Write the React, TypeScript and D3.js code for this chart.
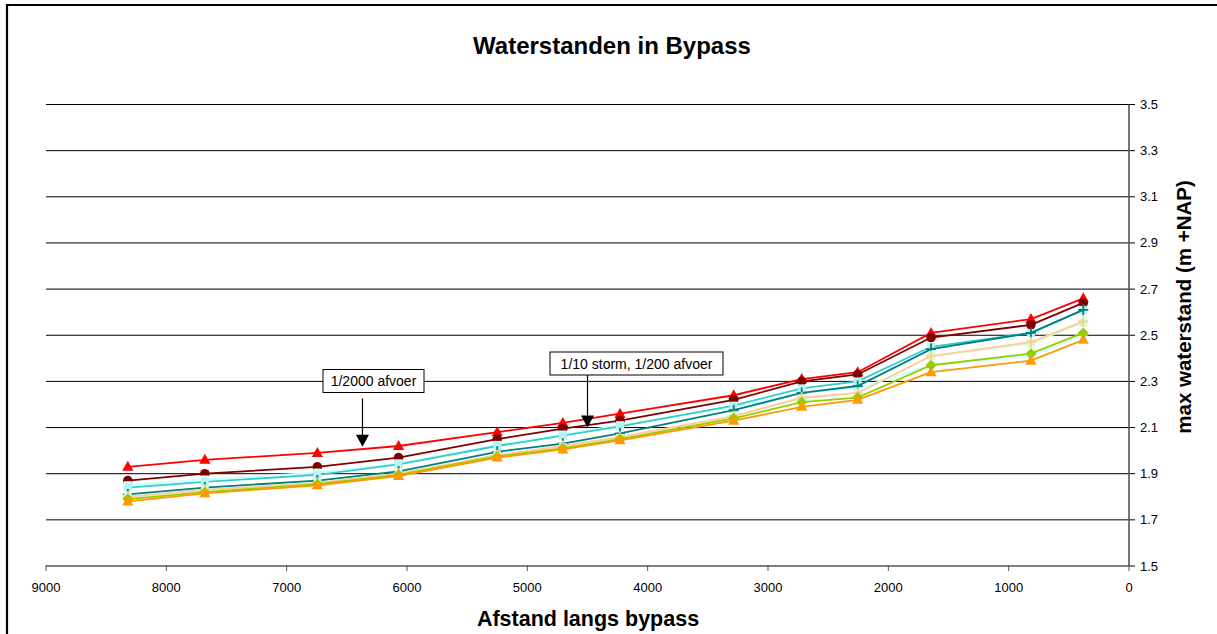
import React from 'react';
import * as d3 from 'd3';

// ---------- data ----------
const distances = [8320, 7680, 6745, 6070, 5250, 4705, 4230, 3285, 2720, 2255, 1645, 815, 380];

const serieRood = [1.93, 1.96, 1.99, 2.02, 2.08, 2.12, 2.16, 2.24, 2.31, 2.34, 2.51, 2.57, 2.66];
const serieDonkerrood = [1.87, 1.90, 1.93, 1.97, 2.05, 2.095, 2.13, 2.22, 2.30, 2.33, 2.49, 2.545, 2.64];
const serieLichtcyaan = [1.85, 1.875, 1.905, 1.945, 2.025, 2.07, 2.11, 2.19, 2.25, 2.27, 2.37, 2.41, 2.50];
const serieTurkoois = [1.84, 1.865, 1.895, 1.94, 2.02, 2.065, 2.105, 2.195, 2.27, 2.30, 2.45, 2.51, 2.61];
const serieTeal = [1.81, 1.84, 1.87, 1.91, 1.995, 2.03, 2.075, 2.175, 2.25, 2.28, 2.44, 2.51, 2.61];
const serieLichtgroen = [1.80, 1.83, 1.86, 1.90, 1.98, 2.015, 2.055, 2.15, 2.225, 2.25, 2.41, 2.465, 2.555];
const seriePerzik = [1.80, 1.83, 1.86, 1.90, 1.98, 2.02, 2.06, 2.15, 2.23, 2.25, 2.41, 2.47, 2.56];
const serieGroen = [1.79, 1.82, 1.855, 1.895, 1.975, 2.01, 2.05, 2.14, 2.21, 2.23, 2.37, 2.42, 2.51];
const serieOranje = [1.78, 1.815, 1.85, 1.89, 1.97, 2.005, 2.045, 2.13, 2.19, 2.22, 2.34, 2.39, 2.48];

const xTicks = [9000, 8000, 7000, 6000, 5000, 4000, 3000, 2000, 1000, 0];
const yTicks = [1.5, 1.7, 1.9, 2.1, 2.3, 2.5, 2.7, 2.9, 3.1, 3.3, 3.5];

const titleText = 'Waterstanden in Bypass';
const xTitle = 'Afstand langs bypass';
const yTitle = 'max waterstand (m +NAP)';

const annotationLabels = ['1/2000 afvoer', '1/10 storm, 1/200 afvoer'];
const annotationTargets = [
  { d: 6370, v: 2.017 },
  { d: 4500, v: 2.10 },
];

// ---------- styles ----------
type Marker = 'triangle' | 'circle' | 'square' | 'plus' | 'diamond' | 'none';
const seriesTable: { values: number[]; line: string; marker: Marker; mfill: string }[] = [
  { values: serieRood, line: '#FF0000', marker: 'triangle', mfill: '#FF0000' },
  { values: serieDonkerrood, line: '#800000', marker: 'circle', mfill: '#800000' },
  { values: serieLichtcyaan, line: '#CCFFFF', marker: 'square', mfill: '#CCFFFF' },
  { values: serieTurkoois, line: '#33CCCC', marker: 'square', mfill: '#B8F2F2' },
  { values: serieTeal, line: '#008080', marker: 'plus', mfill: '#008080' },
  { values: serieLichtgroen, line: '#CCFFCC', marker: 'square', mfill: '#CCFFCC' },
  { values: seriePerzik, line: '#FFCC99', marker: 'plus', mfill: '#FFCC99' },
  { values: serieGroen, line: '#99CC00', marker: 'diamond', mfill: '#99CC00' },
  { values: serieOranje, line: '#FF9900', marker: 'triangle', mfill: '#FF9900' },
];

const W = 1217;
const H = 634;
const left = 46;
const right = 1129;
const top = 104.5;
const bottom = 566;
const font = 'Arial, "Liberation Sans", sans-serif';

const x = d3.scaleLinear().domain([9000, 0]).range([left, right]);
const y = d3.scaleLinear().domain([1.5, 3.5]).range([bottom, top]);

function MarkerShape({ type, cx, cy, fill }: { type: Marker; cx: number; cy: number; fill: string }) {
  if (type === 'triangle') {
    return <path d={`M${cx},${cy - 6}L${cx + 5.6},${cy + 4}L${cx - 5.6},${cy + 4}Z`} fill={fill} />;
  }
  if (type === 'circle') return <circle cx={cx} cy={cy} r={4.8} fill={fill} />;
  if (type === 'square') return <rect x={cx - 4} y={cy - 4} width={8} height={8} fill={fill} />;
  if (type === 'diamond') {
    return <path d={`M${cx},${cy - 5.5}L${cx + 5.5},${cy}L${cx},${cy + 5.5}L${cx - 5.5},${cy}Z`} fill={fill} />;
  }
  if (type === 'plus') {
    return (
      <path d={`M${cx - 5},${cy}H${cx + 5}M${cx},${cy - 5.5}V${cy + 5.5}`} stroke={fill} strokeWidth={1.8} fill="none" />
    );
  }
  return null;
}

export default function App() {
  const line = d3
    .line<number>()
    .x((_, i) => x(distances[i]))
    .y((v) => y(v));

  const boxes = [
    { x0: 323, y0: 369.5, w: 101, h: 23 },
    { x0: 550, y0: 352, w: 173, h: 23 },
  ];

  return (
    <svg
      width={W}
      height={H}
      style={{ position: 'absolute', left: 0, top: 0, background: '#fff' }}
      fontFamily={font}
    >
      <rect x={0} y={0} width={W} height={H} fill="#fff" />
      {/* outer frame */}
      <path d={`M7,${H + 5}V5H${W + 5}`} fill="none" stroke="#000" strokeWidth={2.2} />

      {/* title */}
      <text x={612} y={54} textAnchor="middle" fontSize={24} fontWeight="bold">
        {titleText}
      </text>

      {/* gridlines */}
      {yTicks.slice(1).map((t) => (
        <line key={t} x1={left} x2={right + 6} y1={y(t)} y2={y(t)} stroke="#000" strokeWidth={1} />
      ))}

      {/* axes */}
      <line x1={left} x2={right + 6} y1={bottom} y2={bottom} stroke="#555" strokeWidth={1.6} />
      <line x1={right} x2={right} y1={top} y2={bottom} stroke="#555" strokeWidth={1.6} />
      {xTicks.map((t) => (
        <line key={t} x1={x(t)} x2={x(t)} y1={bottom - 1} y2={bottom + 5} stroke="#555" strokeWidth={1} />
      ))}

      {/* tick labels */}
      {yTicks.map((t) => (
        <text key={t} x={right + 11} y={y(t) + 4.5} fontSize={13} fill="#000">
          {t.toFixed(1)}
        </text>
      ))}
      {xTicks.map((t) => (
        <text key={t} x={x(t)} y={592} fontSize={13} textAnchor="middle" fill="#000">
          {t}
        </text>
      ))}

      {/* axis titles */}
      <text x={588} y={626} textAnchor="middle" fontSize={21.5} fontWeight="bold">
        {xTitle}
      </text>
      <text
        transform={`translate(1191,307) rotate(-90)`}
        textAnchor="middle"
        fontSize={20.5}
        fontWeight="bold"
      >
        {yTitle}
      </text>

      {/* series */}
      {seriesTable.map((s, si) => (
        <g key={si}>
          <path d={line(s.values) || ''} fill="none" stroke={s.line} strokeWidth={1.8} />
          {s.values.map((v, i) => (
            <MarkerShape key={i} type={s.marker} cx={x(distances[i])} cy={y(v)} fill={s.mfill} />
          ))}
        </g>
      ))}

      {/* annotations */}
      {annotationLabels.map((lab, i) => {
        const b = boxes[i];
        const tx = x(annotationTargets[i].d);
        const ty = y(annotationTargets[i].v);
        return (
          <g key={i}>
            <line x1={tx} x2={tx} y1={b.y0 + b.h + (i === 0 ? 6 : 0)} y2={ty - 10} stroke="#000" strokeWidth={1.2} />
            <path d={`M${tx - 6.5},${ty - 12}L${tx + 6.5},${ty - 12}L${tx},${ty}Z`} fill="#000" />
            <rect x={b.x0} y={b.y0} width={b.w} height={b.h} fill="#fff" stroke="#000" strokeWidth={1} />
            <text x={b.x0 + b.w / 2} y={b.y0 + 16.5} textAnchor="middle" fontSize={14}>
              {lab}
            </text>
          </g>
        );
      })}
    </svg>
  );
}
